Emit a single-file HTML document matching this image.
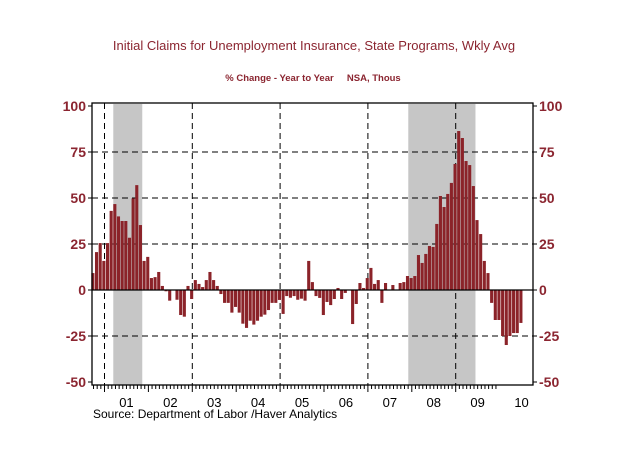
<!DOCTYPE html>
<html><head><meta charset="utf-8"><style>
body{margin:0;background:#fff;width:636px;height:471px;overflow:hidden}
svg{display:block;font-family:"Liberation Sans",Arial,sans-serif}
</style></head><body>
<svg id="chart" width="636" height="471">
<text x="314" y="50" text-anchor="middle" font-size="13" fill="#8B2530">Initial Claims for Unemployment Insurance, State Programs, Wkly Avg</text>
<text x="313" y="81" text-anchor="middle" font-size="9.5" font-weight="bold" fill="#8B2530" xml:space="preserve">% Change - Year to Year     NSA, Thous</text>
<g id="shade"></g><g id="grid"></g><g id="bars"></g><g id="axes"></g>
<text x="93" y="418" font-size="12" fill="#000">Source:  Department of Labor /Haver Analytics</text>
</svg>
<script>
const values=[9.2,20.6,25.5,15.8,25.5,43,46.7,40,37.5,37.5,28.4,49.8,57,35.3,15.8,18,6.5,7,9.8,2.2,-0.7,-5.8,0,-5.3,-13.6,-14.5,2.2,-4.9,5.4,
3.3,1.6,5.4,9.8,5.4,2.2,-2.2,-7,-7,-12.3,-9.2,-12.3,-18.3,-20.6,-16.7,-18.8,-16.7,-14.5,-13.4,-10.9,-7,-7,-5.4,-13,-3.3,-4.2,-3.3,-5.3,-4.7,-5.8,
15.8,4.3,-3.3,-4.3,-13.6,-6.5,-8.2,-4.9,1.1,-4.9,-1.6,0,-18.5,-7.6,3.8,1.1,6.5,12,3.3,5.4,-7,3.8,0,2.7,0,3.8,4.3,7.6,6.5,
7.6,19,14.7,19.6,23.9,23.4,35.9,51.1,45.1,52.2,58.2,68.5,86.4,82.6,70.1,67.9,56.5,38,30.4,15.8,9.2,-7,-16.3,-16.3,-25,-29.9,-25,-23.4,-23.4,-17.9];
const yTicks=[100,75,50,25,0,-25,-50];
const yearLabels=["01","02","03","04","05","06","07","08","09","10"];
const yearStarts=[2001,2002,2003,2004,2005,2006,2007,2008,2009,2010];
const dashedYears=[2001,2003,2005,2007,2009];
const recessions=[[2001.2,2001.86],[2007.92,2009.45]];
const startTime=2000.70;
const NS="http://www.w3.org/2000/svg";
const L=92,R=533,T=103,B=385;
const X=t=>104.5+(t-2001)*43.9;
const Y=v=>290-v*46/25;
function mk(tag,attrs,parent){const e=document.createElementNS(NS,tag);for(const k in attrs)e.setAttribute(k,attrs[k]);document.getElementById(parent).appendChild(e);return e;}
recessions.forEach(r=>{const e=mk('rect',{x:X(r[0]),y:T+1,width:X(r[1])-X(r[0]),height:B-T-1,fill:'#c6c6c6'},'shade');

});
yTicks.forEach(v=>{if(v===0||v===100||v===-50)return;const e=mk('line',{x1:L,x2:R,y1:Y(v),y2:Y(v),stroke:'#000','stroke-dasharray':'6,4'},'grid');

});
dashedYears.forEach(t=>{const e=mk('line',{x1:X(t),x2:X(t),y1:T,y2:B,stroke:'#000','stroke-dasharray':'6,4'},'grid');

});
values.forEach((v,i)=>{const x=X(startTime+i/12);const y0=Y(0),y1=Y(v);
const e=mk('rect',{x:x,y:Math.min(y0,y1),width:3.1,height:Math.abs(y1-y0),fill:'#8B2329'},'bars');

});
let z=mk('line',{x1:L,x2:R,y1:Y(0),y2:Y(0),stroke:'#000','stroke-width':1.2},'axes');


let fr=mk('rect',{x:L,y:T,width:R-L,height:B-T,fill:'none',stroke:'#000','stroke-width':1.3},'axes');


yTicks.forEach(v=>{
mk('line',{x1:L-4,x2:L,y1:Y(v),y2:Y(v),stroke:'#000'},'axes');
mk('line',{x1:R,x2:R+4,y1:Y(v),y2:Y(v),stroke:'#000'},'axes');
const a=mk('text',{x:L-6,y:Y(v)+5,'text-anchor':'end','font-size':14,'font-weight':'bold',fill:'#8B2530'},'axes');a.textContent=v;


const b=mk('text',{x:R+6,y:Y(v)+5,'font-size':14,'font-weight':'bold',fill:'#8B2530'},'axes');b.textContent=v;

});
for(let m=0;m<120;m++){const t=2000+m/12;const x=X(t);if(x<L||x>R)continue;const major=m%12===0;
mk('line',{x1:x,x2:x,y1:B,y2:B+(major?7:4),stroke:'#000'},'axes');}
yearLabels.forEach((s,i)=>{const e=mk('text',{x:X(yearStarts[i]+0.5),y:407,'text-anchor':'middle','font-size':13,fill:'#000'},'axes');e.textContent=s;

});
</script>
</body></html>
